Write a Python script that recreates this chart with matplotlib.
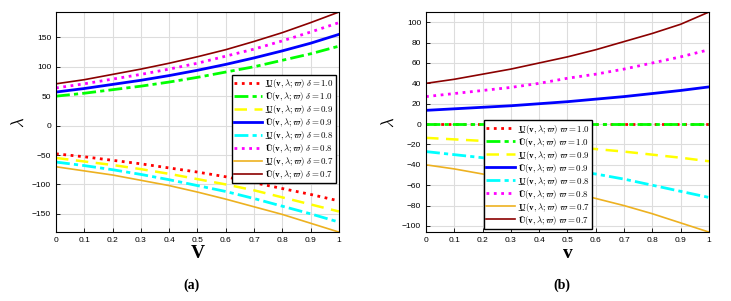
import numpy as np
from matplotlib import pyplot as plt

plt.rcParams["mathtext.fontset"] = "cm"
plt.rcParams["font.family"] = ["Liberation Sans", "DejaVu Sans"]

v = [0, 0.1, 0.2, 0.3, 0.4, 0.5, 0.6, 0.7, 0.8, 0.9, 1.0]

# panel (a): delta
a_low_10 = [-48, -53, -59, -65, -72, -79, -87, -97, -107, -117, -128]
a_up_10 = [50, 55, 61, 67, 74, 82, 91, 100, 111, 122, 135]
a_low_09 = [-55, -61, -67, -74, -82, -91, -100, -110, -122, -134, -146]
a_up_09 = [57, 63, 70, 77, 85, 94, 104, 115, 127, 140, 155]
a_low_08 = [-62, -68, -75, -83, -92, -102, -112, -124, -137, -150, -164]
a_up_08 = [64, 71, 79, 87, 96, 106, 118, 130, 144, 159, 175]
a_low_07 = [-70, -77, -84, -93, -102, -113, -125, -138, -151, -166, -181]
a_up_07 = [71, 78, 87, 96, 106, 117, 129, 143, 158, 175, 193]

# panel (b): varpi
b_low_10 = [0, 0, 0, 0, 0, 0, 0, 0, 0, 0, 0]
b_up_10 = [0, 0, 0, 0, 0, 0, 0, 0, 0, 0, 0]
b_low_09 = [-13.5, -15, -16.5, -18, -20, -22, -24.5, -27, -30, -33, -36.5]
b_up_09 = [13.5, 15, 16.5, 18, 20, 22, 24.5, 27, 30, 33, 36.5]
b_low_08 = [-27, -30, -33, -36, -40, -45, -49, -54, -60, -66, -72]
b_up_08 = [27, 30, 33, 36, 40, 45, 49, 54, 60, 66, 73]
b_low_07 = [-40, -44, -49, -54, -60, -66, -73, -80, -88, -97, -106]
b_up_07 = [40, 44, 49, 54, 60, 66, 73, 81, 89, 98, 110]

niveles = ["1.0", "1.0", "0.9", "0.9", "0.8", "0.8", "0.7", "0.7"]
estilos = [
    dict(color="red", ls=":", lw=2.0),
    dict(color="#00ff00", ls="-.", lw=2.0, dashes=(5, 1.5, 1.5, 1.5)),
    dict(color="yellow", ls="--", lw=1.8, dashes=(5, 3)),
    dict(color="blue", ls="-", lw=2.0),
    dict(color="cyan", ls="-.", lw=2.0, dashes=(5, 1.5, 1.5, 1.5)),
    dict(color="magenta", ls=":", lw=2.0),
    dict(color="#edb120", ls="-", lw=1.2),
    dict(color="#8b0000", ls="-", lw=1.2),
]


def etiqueta(i, simbolo, nivel):
    # mathtext no tiene \underline: U seguido de dos guiones bajos retrocedidos
    if i % 2 == 0:
        u = r"\mathbf{U}\hspace{-0.9}\_\hspace{-0.3}\_\hspace{0.05}"
    else:
        u = r"\mathbf{Ū}"
    return r"$" + u + r"(\mathbf{v},\lambda;\varpi)\ " + simbolo + "=" + nivel + r"$"


def dibujar(ax, series, simbolo, yticks, legend_loc, legend_anchor, xlabel):
    for i, (serie, estilo) in enumerate(zip(series, estilos)):
        ax.plot(v, serie, label=etiqueta(i, simbolo, niveles[i]), **estilo)
    todos = np.concatenate([np.array(s, dtype=float) for s in series])
    ax.set_xlim(0, 1)
    ax.set_ylim(todos.min(), todos.max())
    ax.set_xticks(v)
    ax.set_xticklabels(["0", "0.1", "0.2", "0.3", "0.4", "0.5", "0.6", "0.7", "0.8", "0.9", "1"])
    ax.set_yticks(yticks)
    ax.tick_params(direction="in", labelsize=6, length=3, width=0.6, top=False, right=False)
    ax.grid(True, color="#dddddd", lw=0.8)
    for s in ax.spines.values():
        s.set_linewidth(0.8)
    ax.set_ylabel(r"$\lambda$", fontsize=12, labelpad=4)
    ax.set_xlabel(xlabel, fontsize=14, fontweight="bold", family="Liberation Serif", labelpad=1)
    leg = ax.legend(loc=legend_loc, bbox_to_anchor=legend_anchor, fontsize=6.4,
                    handlelength=3.2, handletextpad=0.3, borderpad=0.25,
                    labelspacing=0.0, fancybox=False, framealpha=1)
    leg.get_frame().set_edgecolor("black")
    leg.get_frame().set_linewidth(1.0)


fig = plt.figure(figsize=(7.31, 3.01), dpi=100)
ax1 = fig.add_axes([0.0766, 0.229, 0.387, 0.731])
ax2 = fig.add_axes([0.5828, 0.229, 0.387, 0.731])

series_a = [a_low_10, a_up_10, a_low_09, a_up_09, a_low_08, a_up_08, a_low_07, a_up_07]
series_b = [b_low_10, b_up_10, b_low_09, b_up_09, b_low_08, b_up_08, b_low_07, b_up_07]

dibujar(ax1, series_a, r"\delta", [-150, -100, -50, 0, 50, 100, 150],
        "upper right", (1.005, 0.735), "V")
dibujar(ax2, series_b, r"\varpi", list(range(-100, 101, 20)),
        "lower left", (0.19, -0.005), "v")

fig.text(0.262, 0.04, "(a)", fontsize=10, fontweight="bold", family="Liberation Serif", ha="center")
fig.text(0.768, 0.04, "(b)", fontsize=10, fontweight="bold", family="Liberation Serif", ha="center")

fig.savefig("out.png", dpi=100)
